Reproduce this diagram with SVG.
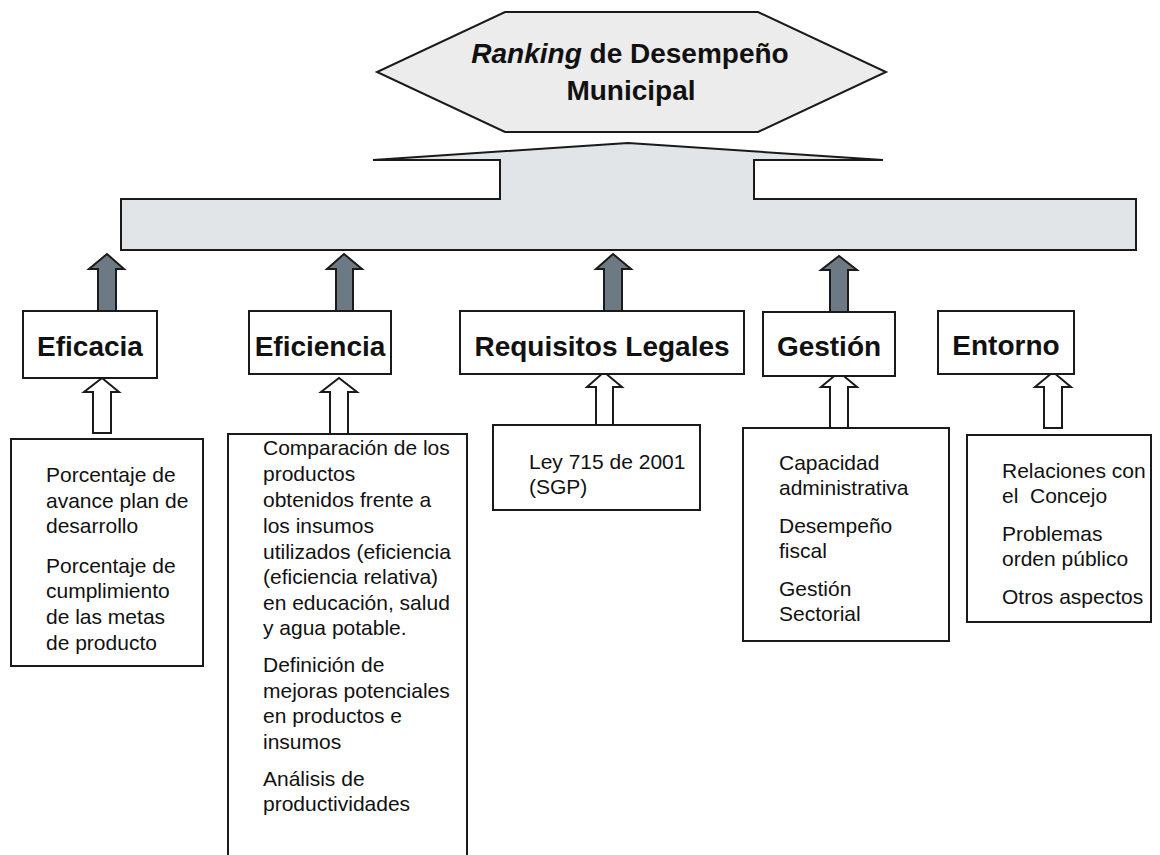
<svg xmlns="http://www.w3.org/2000/svg" width="1160" height="855" viewBox="0 0 1160 855">
<style>
.bx{fill:#fff;stroke:#1a1a1a;stroke-width:2}
.ga{fill:#6e7a83;stroke:#1a1a1a;stroke-width:2;stroke-linejoin:miter}
.wa{fill:#fff;stroke:#1a1a1a;stroke-width:2;stroke-linejoin:miter}
.h{font-family:"Liberation Sans",Arial,sans-serif;font-weight:bold;font-size:28px;fill:#111}
.t{font-family:"Liberation Sans",Arial,sans-serif;font-size:21px;fill:#111}
</style>
<rect width="1160" height="855" fill="#fff"/>
<g id="title">
<polygon points="505,12 758,12 886,72 758,132 505,132 377,72" fill="#ececec" stroke="#1a1a1a" stroke-width="2"/>
<text class="h" x="630" y="63" text-anchor="middle"><tspan font-style="italic">Ranking</tspan> de Desempeño</text>
<text class="h" x="631" y="100" text-anchor="middle">Municipal</text>
</g>
<g id="bar">
<polygon points="121,199 500,199 500,160 373,160 628,143 883,160 754,160 754,199 1136,199 1136,250 121,250" fill="#e1e5e8" stroke="#1a1a1a" stroke-width="2"/>
</g>
<g id="connectors">
<polygon class="ga" points="98,311 98,269 89,269 107,254 124,269 116,269 116,311"/>
<polygon class="ga" points="336,311 336,269 327,269 344,254 362,269 353,269 353,311"/>
<polygon class="ga" points="604,311 604,269 596,269 613,254 631,269 622,269 622,311"/>
<polygon class="ga" points="830,312 830,270 821,270 839,256 857,270 848,270 848,312"/>
<polygon class="wa" points="93,433 93,392 84,392 102,378 119,392 111,392 111,433"/>
<polygon class="wa" points="330,434 330,392 321,392 339,378 357,392 348,392 348,434"/>
<polygon class="wa" points="596,425 596,387 587,387 604,372 622,387 613,387 613,425"/>
<polygon class="wa" points="830,428 830,387 821,387 839,372 857,387 848,387 848,428"/>
<polygon class="wa" points="1044,428 1044,387 1035,387 1053,372 1071,387 1062,387 1062,428"/>
</g>
<g id="eficacia">
<rect class="bx" x="23" y="311" width="134" height="67"/>
<text class="h" x="90" y="356" text-anchor="middle">Eficacia</text>
</g>
<g id="eficiencia">
<rect class="bx" x="249" y="311" width="142" height="63"/>
<text class="h" x="320" y="356" text-anchor="middle">Eficiencia</text>
</g>
<g id="requisitos">
<rect class="bx" x="460" y="311" width="284" height="63"/>
<text class="h" x="602" y="356" text-anchor="middle">Requisitos Legales</text>
</g>
<g id="gestion">
<rect class="bx" x="763" y="312" width="132" height="64"/>
<text class="h" x="829" y="356" text-anchor="middle">Gestión</text>
</g>
<g id="entorno">
<rect class="bx" x="938" y="311" width="136" height="63"/>
<text class="h" x="1006" y="355" text-anchor="middle">Entorno</text>
</g>
<g id="eficacia-detail">
<rect class="bx" x="11" y="439" width="192" height="227"/>
<text class="t" x="46" y="482">Porcentaje de</text>
<text class="t" x="46" y="508">avance plan de</text>
<text class="t" x="46" y="533">desarrollo</text>
<text class="t" x="46" y="573">Porcentaje de</text>
<text class="t" x="46" y="598">cumplimiento</text>
<text class="t" x="46" y="624">de las metas</text>
<text class="t" x="46" y="650">de producto</text>
</g>
<g id="eficiencia-detail">
<rect class="bx" x="228" y="434" width="239" height="440"/>
<text class="t" x="263" y="455">Comparación de los</text>
<text class="t" x="263" y="481">productos</text>
<text class="t" x="263" y="507">obtenidos frente a</text>
<text class="t" x="263" y="533">los insumos</text>
<text class="t" x="263" y="559">utilizados (eficiencia</text>
<text class="t" x="263" y="584">(eficiencia relativa)</text>
<text class="t" x="263" y="610">en educación, salud</text>
<text class="t" x="263" y="635">y agua potable.</text>
<text class="t" x="263" y="672">Definición de</text>
<text class="t" x="263" y="698">mejoras potenciales</text>
<text class="t" x="263" y="723">en productos e</text>
<text class="t" x="263" y="749">insumos</text>
<text class="t" x="263" y="786">Análisis de</text>
<text class="t" x="263" y="811">productividades</text>
</g>
<g id="requisitos-detail">
<rect class="bx" x="493" y="425" width="207" height="85"/>
<text class="t" x="529" y="469">Ley 715 de 2001</text>
<text class="t" x="529" y="494">(SGP)</text>
</g>
<g id="gestion-detail">
<rect class="bx" x="743" y="428" width="206" height="213"/>
<text class="t" x="779" y="470">Capacidad</text>
<text class="t" x="779" y="495">administrativa</text>
<text class="t" x="779" y="533">Desempeño</text>
<text class="t" x="779" y="558">fiscal</text>
<text class="t" x="779" y="596">Gestión</text>
<text class="t" x="779" y="621">Sectorial</text>
</g>
<g id="entorno-detail">
<rect class="bx" x="967" y="435" width="184" height="187"/>
<text class="t" x="1002" y="478">Relaciones con</text>
<text class="t" x="1002" y="503" style="white-space:pre">el  Concejo</text>
<text class="t" x="1002" y="541">Problemas</text>
<text class="t" x="1002" y="566">orden público</text>
<text class="t" x="1002" y="604">Otros aspectos</text>
</g>
</svg>
